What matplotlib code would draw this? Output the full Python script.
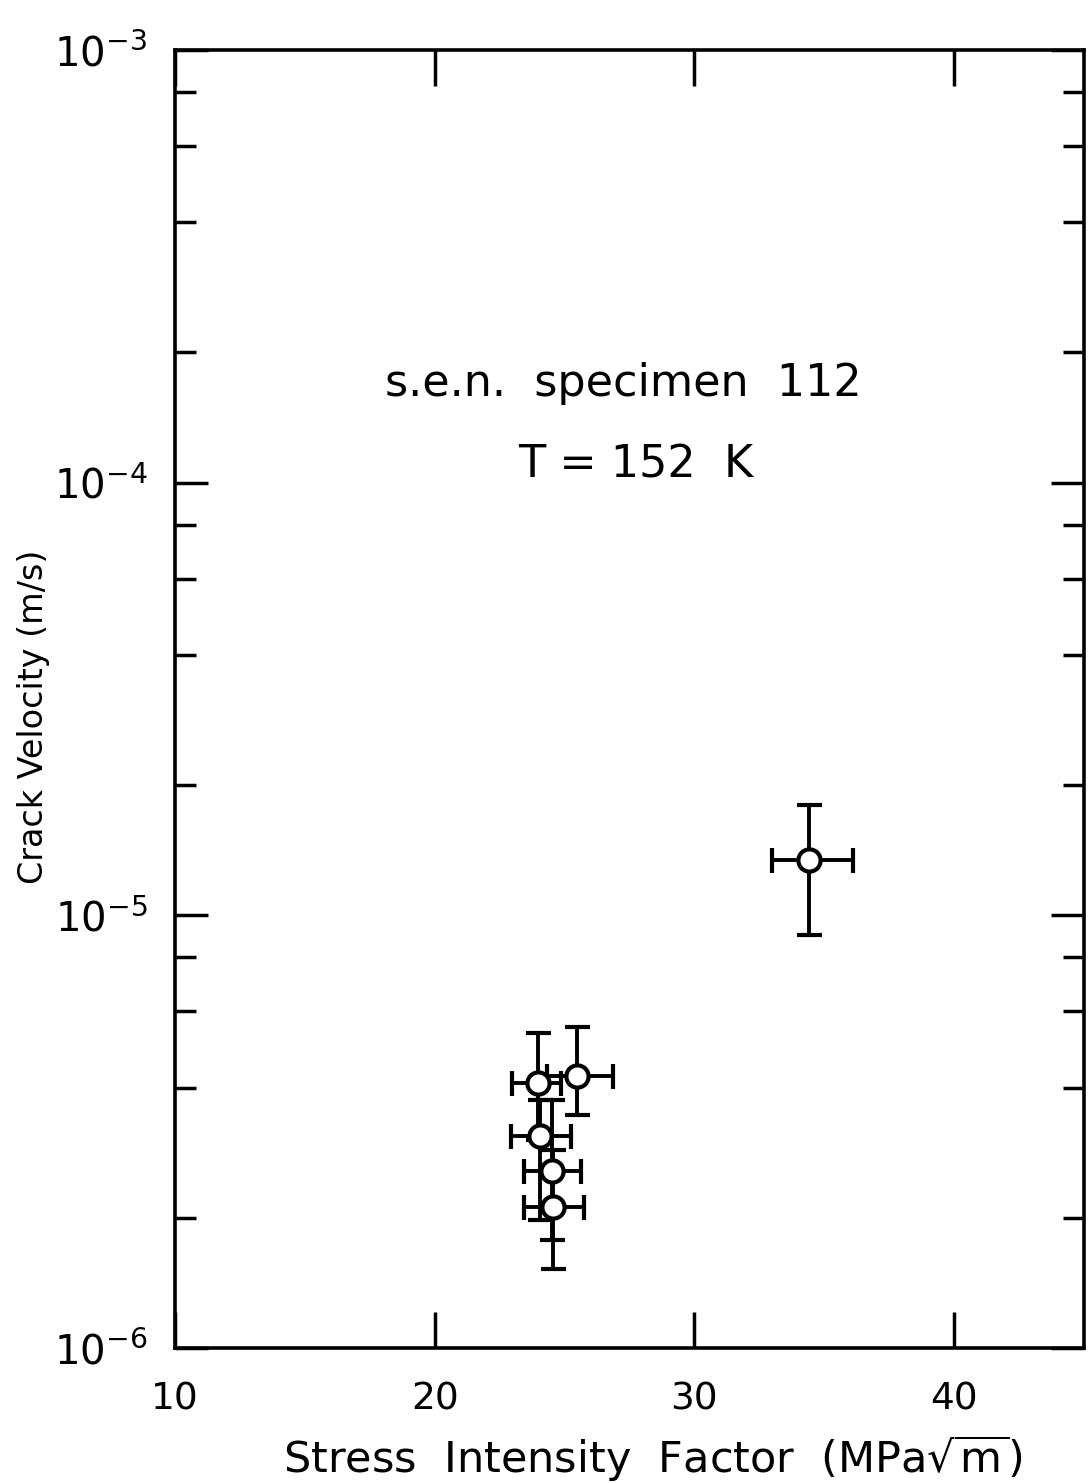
import matplotlib
matplotlib.use("Agg")
import matplotlib.pyplot as plt
from matplotlib.ticker import LogLocator, FixedLocator, NullFormatter
import numpy as np

plt.rcParams['font.family'] = ['DejaVu Sans']
plt.rcParams['mathtext.fontset'] = 'dejavusans'

# Data
K = [34.42, 23.96, 25.46, 24.04, 24.50, 24.54]            # MPa sqrt(m)
K_lo = [33.00, 22.96, 24.31, 22.92, 23.42, 23.42]
K_hi = [36.12, 24.88, 26.85, 25.23, 25.62, 25.73]
V = [1.34e-5, 4.10e-6, 4.26e-6, 3.09e-6, 2.56e-6, 2.12e-6]  # m/s
V_lo = [9.0e-6, 3.03e-6, 3.46e-6, 1.98e-6, 1.78e-6, 1.52e-6]
V_hi = [1.80e-5, 5.35e-6, 5.52e-6, 3.74e-6, 3.74e-6, 2.87e-6]

x_ticks = [10, 20, 30, 40]
x_label = r'Stress  Intensity  Factor  (MPa$\sqrt{\mathrm{m}}$)'
y_label = 'Crack Velocity (m/s)'
notes = ['s.e.n.  specimen  112', 'T = 152  K']

fig = plt.figure(figsize=(10.88, 14.83), dpi=100)
ax = fig.add_axes([175/1088, 1 - 1348/1483, (1084 - 175)/1088, (1348 - 50)/1483])

K = np.array(K); V = np.array(V)
xerr = [K - np.array(K_lo), np.array(K_hi) - K]
yerr = [V - np.array(V_lo), np.array(V_hi) - V]

ax.errorbar(K, V, xerr=xerr, yerr=yerr, fmt='o', mfc='white', mec='black',
            mew=3.0, ms=16, ecolor='black', elinewidth=2.8, capsize=9,
            capthick=3.4, zorder=3)

ax.set_yscale('log')
ax.set_xlim(10, 45)
ax.set_ylim(1e-6, 1e-3)
ax.xaxis.set_major_locator(FixedLocator(x_ticks))
ax.yaxis.set_major_locator(LogLocator(base=10, numticks=10))
ax.yaxis.set_minor_locator(LogLocator(base=10, subs=[2, 4, 6, 8], numticks=10))
ax.yaxis.set_minor_formatter(NullFormatter())

ax.tick_params(axis='both', which='both', direction='in', top=True, right=True,
               width=2.5, color='black')
ax.tick_params(axis='x', which='major', length=26, labelsize=27, pad=24)
ax.tick_params(axis='y', which='major', length=24, labelsize=29, pad=20)
ax.tick_params(axis='y', which='minor', length=15)
for s in ax.spines.values():
    s.set_linewidth(2.6)

ax.set_xlabel(x_label, fontsize=31)
ax.xaxis.set_label_coords(0.525, -0.066)
ax.set_ylabel(y_label, fontsize=24)
ax.yaxis.set_label_coords(-0.137, 0.486)

ax.text(0.493, 0.743, notes[0], transform=ax.transAxes, ha='center', va='center', fontsize=32)
ax.text(0.507, 0.680, notes[1], transform=ax.transAxes, ha='center', va='center', fontsize=32)

fig.savefig('out.png', dpi=100, facecolor='white')
